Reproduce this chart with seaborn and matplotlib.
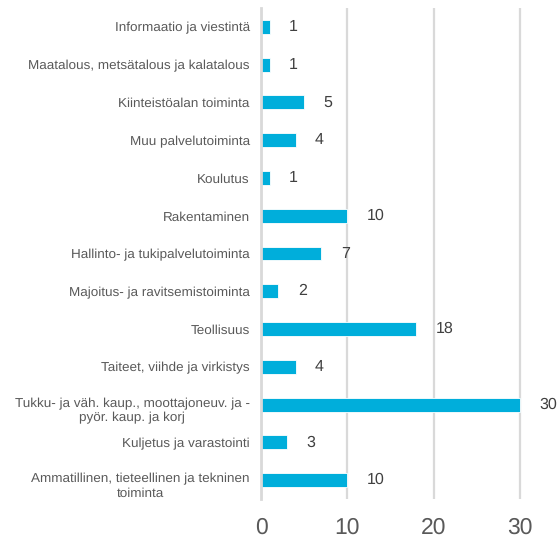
import matplotlib
matplotlib.use("Agg")
import numpy as np
import pandas as pd
import seaborn as sns
import matplotlib.pyplot as plt
import matplotlib.transforms as mtransforms

# Data (top to bottom)
categories = [
    "Informaatio ja viestintä",
    "Maatalous, metsätalous ja kalatalous",
    "Kiinteistöalan toiminta",
    "Muu palvelutoiminta",
    "Koulutus",
    "Rakentaminen",
    "Hallinto- ja tukipalvelutoiminta",
    "Majoitus- ja ravitsemistoiminta",
    "Teollisuus",
    "Taiteet, viihde ja virkistys",
    "Tukku- ja väh. kaup., moottajoneuv. ja -\npyör. kaup. ja korj",
    "Kuljetus ja varastointi",
    "Ammatillinen, tieteellinen ja tekninen\ntoiminta",
]
values = [1, 1, 5, 4, 1, 10, 7, 2, 18, 4, 30, 3, 10]
x_ticks = [0, 10, 20, 30]

bar_color = "#00AEDB"
grid_color = "#D9D9D9"
label_color = "#595959"
value_color = "#404040"

df = pd.DataFrame({"category": categories, "value": values})

sns.set_style("white")
plt.rcParams["font.family"] = ["Liberation Sans", "DejaVu Sans"]
plt.rcParams["text.hinting"] = "no_hinting"

fig = plt.figure(figsize=(5.58, 5.42), dpi=100)
ax = fig.add_axes([261 / 558, 43 / 542, 261.6 / 558, 491 / 542])

sns.barplot(data=df, y="category", x="value", orient="h", color=bar_color,
            saturation=1, width=0.37, edgecolor="white", linewidth=0.6, ax=ax)

ax.set_xlim(0, 30.3)
ax.set_ylim(len(categories) - 0.5, -0.5)
ax.set_xlabel("")
ax.set_ylabel("")

# vertical gridlines
ax.set_xticks(x_ticks)
ax.xaxis.grid(True, color=grid_color, linewidth=1.6)
ax.set_axisbelow(True)
ax.tick_params(axis="x", length=0, pad=13, labelsize=16.5, labelcolor=label_color)

# category labels
ax.tick_params(axis="y", length=0, pad=8, labelsize=9.7, labelcolor=label_color)
shift = mtransforms.ScaledTranslation(0, -4 / 100, fig.dpi_scale_trans)
for t in ax.get_yticklabels():
    t.set_multialignment("center")
    if "\n" in t.get_text():
        t.set_transform(t.get_transform() + shift)
ax.set_yticks(np.arange(len(categories) + 1) - 0.5, minor=True)
ax.tick_params(axis="y", which="minor", length=3, width=1.2, color=grid_color)

for side in ["top", "right", "bottom"]:
    ax.spines[side].set_visible(False)
ax.spines["left"].set_color(grid_color)
ax.spines["left"].set_linewidth(2)

# value labels
for i, v in enumerate(values):
    ax.annotate(str(v), xy=(v, i), xytext=(14, 0), textcoords="offset points",
                ha="left", va="center", fontsize=11.5, color=value_color)

fig.savefig("out.png", dpi=100)
